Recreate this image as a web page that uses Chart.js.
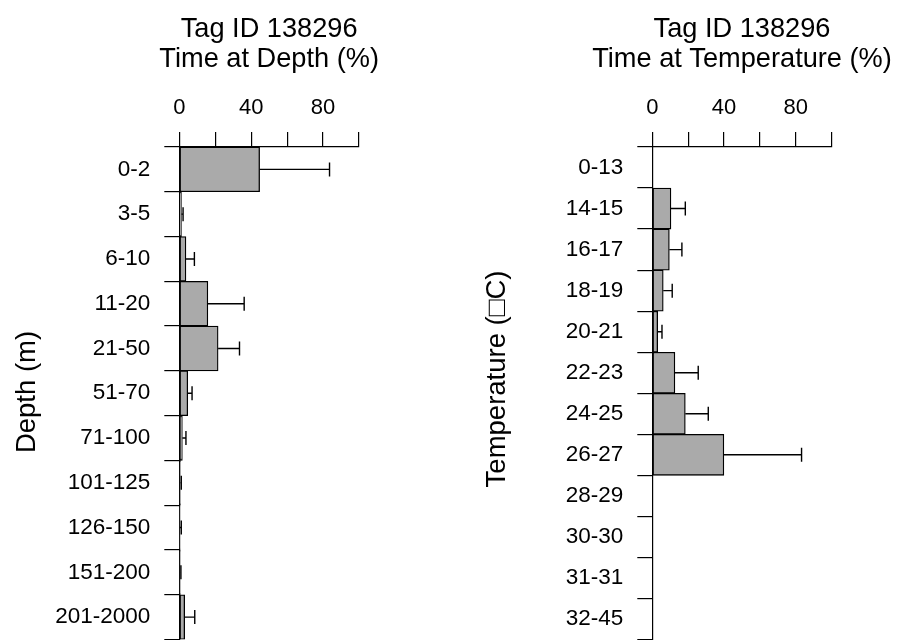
<!DOCTYPE html>
<html>
<head>
<meta charset="utf-8">
<title>Tag ID 138296</title>
<script src="https://cdn.jsdelivr.net/npm/chart.js@4.4.1/dist/chart.umd.min.js"></script>
<style>
    html, body { margin: 0; padding: 0; background: #fff; }
    #wrap { position: relative; width: 902px; height: 640px; }
    canvas { position: absolute; top: 0; }
    #depthChart { left: 0; }
    #tempChart { left: 451px; }
</style>
</head>
<body>
<div id="wrap">
    <canvas id="depthChart" width="451" height="640"></canvas>
    <canvas id="tempChart" width="451" height="640"></canvas>
</div>
<script>
// Data
const TAG_ID = '138296';

const depthBins = ['0-2', '3-5', '6-10', '11-20', '21-50', '51-70', '71-100', '101-125', '126-150', '151-200', '201-2000'];
const depthMean = [44.7, 1.2, 3.7, 15.9, 21.6, 4.7, 1.7, 0.6, 0.3, 0.5, 3.0];
const depthSd   = [38.9, 0.9, 4.7, 20.2, 11.9, 2.4, 2.0, 0.5, 0.8, 0.4, 5.6];

const tempBins = ['0-13', '14-15', '16-17', '18-19', '20-21', '22-23', '24-25', '26-27', '28-29', '30-30', '31-31', '32-45'];
const tempMean = [0, 10.4, 9.5, 6.1, 3.0, 12.6, 18.4, 39.9, 0, 0, 0, 0];
const tempSd   = [0, 8.0, 7.0, 5.0, 2.4, 13.0, 12.8, 43.3, 0, 0, 0, 0];

const pctTicks = [0, 40, 80];   // labelled ticks, marks every 20

const FONT = "'Liberation Sans', Arial, sans-serif";

// Error bars: line from bar end to mean + sd, with a cap
const errorBars = {
    id: 'errorBars',
    afterDatasetsDraw(chart, args, opts) {
        const { ctx, scales: { x, y } } = chart;
        const means = chart.data.datasets[0].data;
        ctx.save();
        ctx.strokeStyle = '#000';
        ctx.lineWidth = 1.4;
        means.forEach((m, i) => {
            const sd = opts.sd[i];
            if (!sd) return;
            const yc = y.getPixelForValue(i);
            const x0 = x.getPixelForValue(m);
            const x1 = x.getPixelForValue(m + sd);
            ctx.beginPath();
            ctx.moveTo(x0, yc);
            ctx.lineTo(x1, yc);
            ctx.moveTo(x1, yc - 7);
            ctx.lineTo(x1, yc + 7);
            ctx.stroke();
        });
        ctx.restore();
    }
};

// Titles and the rotated axis title
const panelText = {
    id: 'panelText',
    afterDraw(chart, args, opts) {
        const { ctx, chartArea } = chart;
        const cx = (chartArea.left + chartArea.right) / 2;
        ctx.save();
        ctx.fillStyle = '#000';
        ctx.font = `27.2px ${FONT}`;
        ctx.textAlign = 'center';
        ctx.textBaseline = 'alphabetic';
        ctx.fillText('Tag ID ' + TAG_ID, cx, 37);
        ctx.fillText(opts.title, cx, 67);

        ctx.font = `27.5px ${FONT}`;
        ctx.translate(opts.axisX, opts.axisY);
        ctx.rotate(-Math.PI / 2);
        ctx.fillText(opts.axisTitle, 0, 0);
        ctx.restore();
    }
};

function makeChart(canvasId, labels, means, sds, texts, layout) {
    const ctx = document.getElementById(canvasId).getContext('2d');
    return new Chart(ctx, {
        type: 'bar',
        data: {
            labels: labels,
            datasets: [{
                data: means,
                backgroundColor: '#aaaaaa',
                borderColor: '#000',
                borderWidth: 1.3,
                borderSkipped: false,
                barPercentage: 1,
                categoryPercentage: 1
            }]
        },
        options: {
            indexAxis: 'y',
            responsive: false,
            animation: false,
            devicePixelRatio: 1,
            layout: { padding: { left: 0, right: layout.right, top: 0, bottom: 0.5 } },
            plugins: {
                legend: { display: false },
                tooltip: { enabled: false },
                errorBars: { sd: sds },
                panelText: texts
            },
            scales: {
                x: {
                    position: 'top',
                    min: 0,
                    max: 100,
                    afterFit: (s) => {
                        s.height = 147;
                        s.paddingLeft = 0;
                        s.paddingRight = 0;
                    },
                    ticks: {
                        stepSize: 20,
                        color: '#000',
                        font: { family: FONT, size: 22 },
                        padding: 11,
                        maxRotation: 0,
                        autoSkip: false,
                        callback: (v) => pctTicks.includes(v) ? String(v) : ''
                    },
                    grid: { drawOnChartArea: false, tickLength: 15, color: '#000', lineWidth: 1.2 },
                    border: { display: true, color: '#000', width: 1.2 }
                },
                y: {
                    afterFit: (s) => {
                        s.width = layout.left;
                        s.paddingTop = 0;
                        s.paddingBottom = 0;
                    },
                    ticks: {
                        color: '#000',
                        font: { family: FONT, size: 22.5 },
                        padding: 14,
                        autoSkip: false
                    },
                    grid: { offset: true, drawOnChartArea: false, tickLength: 15, color: '#000', lineWidth: 1.2 },
                    border: { display: true, color: '#000', width: 1.2 }
                }
            }
        },
        plugins: [errorBars, panelText]
    });
}

document.addEventListener('DOMContentLoaded', () => {
    makeChart('depthChart', depthBins, depthMean, depthSd,
        { title: 'Time at Depth (%)', axisTitle: 'Depth (m)', axisX: 35, axisY: 392 },
        { left: 179.3, right: 92 });

    makeChart('tempChart', tempBins, tempMean, tempSd,
        { title: 'Time at Temperature (%)', axisTitle: 'Temperature (\u25A1C)', axisX: 54, axisY: 379 },
        { left: 201.3, right: 70.3 });
});
</script>
</body>
</html>
